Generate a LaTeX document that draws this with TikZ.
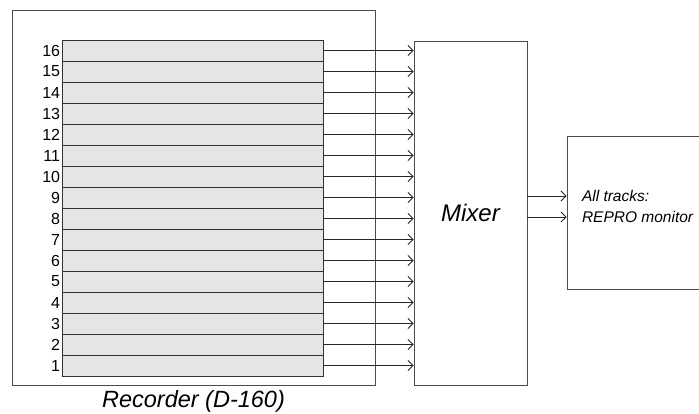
\documentclass[tikz,border=0pt]{standalone}
\usepackage{fontspec}
\setmainfont{Liberation Sans}
\usetikzlibrary{arrows.meta, positioning}
\usepackage{xcolor}

\begin{document}
\begin{tikzpicture}[x=1pt, y=-1pt, line width=0.9pt,
    frame/.style={draw=black!70, fill=white, inner sep=0pt},
    trackstrip/.style={draw=black!80, fill=black!10, minimum width=261pt, minimum height=21pt, inner sep=0pt},
    tracknum/.style={anchor=east, inner sep=1pt, font=\fontsize{16}{17}\selectfont},
    feed/.style={draw=black!85, -{Straight Barb[length=5pt, width=10pt, line width=0.9pt]}}]
    \useasboundingbox (0,0) rectangle (699,414);
    % recorder with its 16 tracks
    \node[frame, minimum width=363pt, minimum height=375pt] (rec) at (193.5,197.5) {};
    \node[below=5pt of rec, inner sep=0pt, font=\fontsize{23.5}{24}\selectfont\itshape] (reclabel) {Recorder (D-160)};
    \foreach \i in {1,...,16} {
      \node[trackstrip] (t\i) at (192.5,{386.5-21*\i}) {};
      \node[tracknum] (n\i) at (t\i.west) {\i};
    }
    % mixer
    \node[frame, minimum width=113pt, minimum height=344pt, font=\fontsize{24}{26}\selectfont\itshape] (mixer) at (470.5,213) {Mixer};
    \foreach \i in {1,...,16}
      \draw[feed] (t\i.east) -- (t\i.east -| mixer.west);
    % monitor, cut off by the page edge on the right
    \node[frame, minimum width=150pt, minimum height=153pt] (monitor) at (642,212.5) {};
    \coordinate (outA) at (monitor.west |- 0,196);
    \coordinate (outB) at (monitor.west |- 0,217);
    \node[anchor=west, inner sep=0pt, font=\fontsize{15.5}{16}\selectfont\itshape] (taila) at ([xshift=15pt]outA) {All tracks:};
    \node[anchor=west, inner sep=0pt, font=\fontsize{15.5}{16}\selectfont\itshape] (tailb) at ([xshift=15pt]outB) {REPRO monitor};
    \draw[feed] (mixer.east |- outA) -- (outA);
    \draw[feed] (mixer.east |- outB) -- (outB);
  \end{tikzpicture}
\end{document}
